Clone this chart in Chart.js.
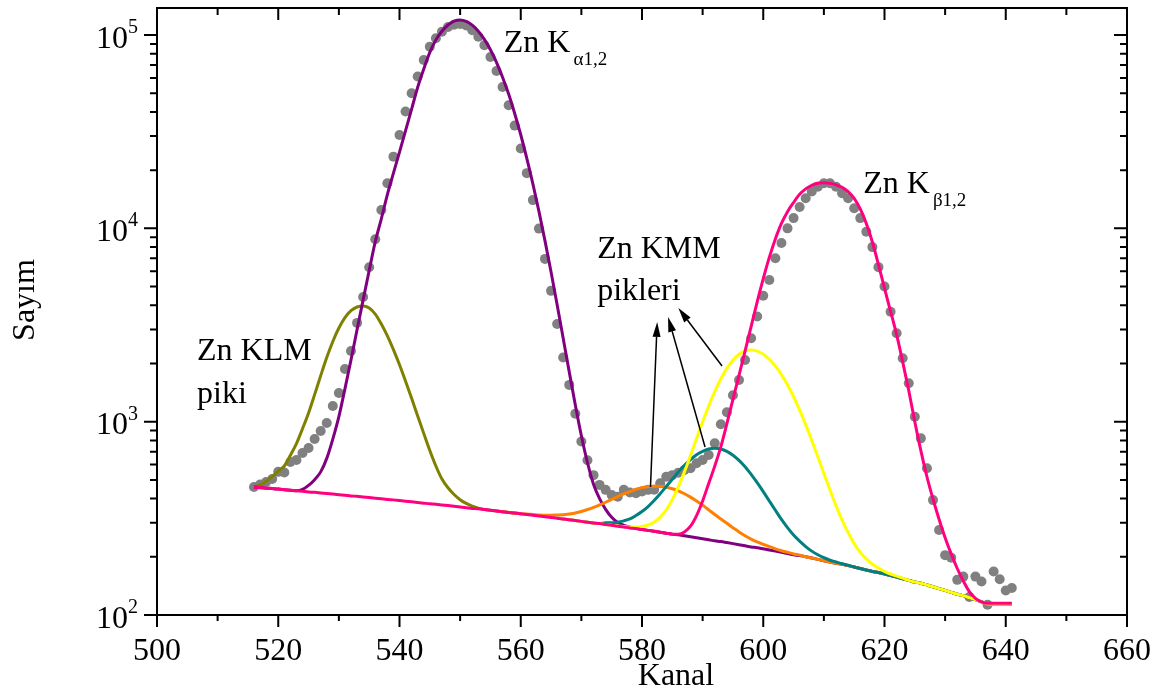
<!DOCTYPE html>
<html>
<head>
<meta charset="utf-8">
<script src="https://cdn.jsdelivr.net/npm/chart.js@4.4.1/dist/chart.umd.min.js"></script>
<style>
  html, body { margin: 0; padding: 0; background: #fff; }
</style>
</head>
<body>
<canvas id="spectrum" width="1165" height="696"></canvas>

<script type="text/javascript">
    // measured counts, one point per channel starting at channel 516
    const firstChannel = 516;
    const measured = [
        459, 473, 487, 505, 550, 546, 619, 634, 689, 731,
        813, 895, 985, 1205, 1407, 1874, 2323, 3243, 4418, 6295,
        8790, 12450, 17100, 23500, 30400, 40200, 50000, 61000, 74300, 87100,
        96200, 104000, 110000, 113000, 114000, 112000, 106000, 98000, 88500, 77000,
        65200, 53800, 43300, 34000, 25900, 19300, 14000, 9970, 6950, 4750,
        3200, 2150, 1550, 1100, 790, 632, 529, 471, 444, 418,
        409, 444, 430, 427, 435, 444, 445, 480, 519, 529,
        545, 562, 574, 609, 634, 673, 773, 970, 1120, 1370,
        1643, 2085, 2700, 3500, 4480, 5410, 7000, 8400, 10000, 11300,
        12900, 14300, 15500, 16400, 17100, 17100, 16400, 15200, 14300, 12700,
        11300, 9600, 8000, 6300, 5000, 3700, 2870, 2130, 1580, 1060,
        820, 574, 393, 275, 204, 198, 152, 158, 124, 158,
        149, 113, 168, 153, 134, 138
    ];

    // fitted components (each already sits on the linear background)
    const kaStart = 516;   // Zn K alpha 1,2
    const kaFit = [
        459, 456, 453, 451, 448, 445, 442, 439, 446, 468,
        501, 550, 646, 813, 1062, 1479, 2089, 2992, 4266, 6053,
        8511, 11200, 14960, 19300, 24800, 32000, 41400, 53700, 66800, 81300,
        94400, 104700, 112700, 118000, 119700, 117600, 112500, 104700, 95000, 84000,
        72300, 60500, 49500, 39300, 30500, 23000, 17000, 12250, 8620, 5950,
        4030, 2700, 1810, 1220, 846, 615, 475, 400, 352, 320,
        301, 291, 285, 280, 277, 274, 271, 268, 265, 262,
        260, 257, 254, 251, 248, 245, 242, 240, 237, 234,
        231, 228, 225, 223, 220, 217, 214, 211, 208, 205,
        203, 200, 197, 194, 191, 188, 185, 183, 180, 177,
        174, 171, 168, 166, 163, 160, 157, 154, 151, 148,
        146, 143, 140, 137, 134, 131, 128, 126, 123, 120,
        117, 114, 114, 114, 114, 114
    ];

    const klmStart = 516;  // Zn KLM satellite
    const klmFit = [
        459, 470, 490, 520, 555, 590, 670, 770, 920, 1110,
        1380, 1730, 2150, 2600, 3050, 3450, 3750, 3920, 3970, 3870,
        3600, 3200, 2780, 2360, 1970, 1620, 1320, 1070, 870, 710,
        590, 505, 455, 420, 395, 378, 366, 357, 351, 348,
        345, 342, 339, 337, 334
    ];

    const kmm1Start = 556; // Zn KMM, first line
    const kmm1Fit = [
        345, 342, 339, 337, 334, 333, 331, 329, 328, 328,
        329, 330, 333, 337, 343, 351, 360, 371, 383, 396,
        410, 423, 435, 447, 456, 462, 464, 463, 458, 450,
        439, 424, 407, 389, 370, 350, 331, 314, 298, 283,
        269, 257, 247, 239, 232, 226, 220, 215, 211, 207,
        204, 200, 197, 194, 191, 188, 185, 183, 180, 177,
        174, 171, 168, 166, 163, 160, 157, 154, 151, 148,
        146, 143, 140, 137, 134, 131, 128, 126, 123, 120,
        117, 114, 114, 114, 114, 114
    ];

    const kmm2Start = 566; // Zn KMM, second line
    const kmm2Fit = [
        317, 314, 311, 308, 305, 302, 299, 297, 300, 300,
        302, 307, 314, 327, 343, 364, 391, 424, 462, 504,
        550, 595, 637, 675, 703, 722, 728, 722, 702, 671,
        631, 585, 534, 484, 435, 389, 348, 312, 283, 259,
        241, 226, 214, 205, 198, 192, 188, 184, 181, 177,
        174, 171, 168, 166, 163, 160, 157, 154, 151, 148,
        146, 143, 140, 137, 134, 131, 128, 126, 123, 120,
        117, 114, 114, 114, 114, 114
    ];

    const kmm3Start = 566; // Zn KMM, third line
    const kmm3Fit = [
        317, 314, 311, 308, 305, 302, 299, 297, 294, 291,
        289, 287, 285, 285, 287, 292, 302, 321, 350, 395,
        461, 550, 669, 819, 999, 1206, 1432, 1664, 1886, 2081,
        2232, 2325, 2350, 2316, 2233, 2104, 1941, 1752, 1551, 1346,
        1148, 965, 800, 658, 540, 444, 368, 310, 267, 234,
        211, 195, 183, 175, 168, 163, 159, 155, 151, 148,
        146, 143, 140, 137, 134, 131, 128, 126, 123, 120,
        117, 114, 114, 114, 114, 114
    ];

    const kbStart = 516;   // Zn K beta 1,2
    const kbFit = [
        459, 456, 453, 451, 448, 445, 442, 439, 436, 433,
        431, 428, 425, 422, 419, 416, 413, 411, 408, 405,
        402, 399, 396, 394, 391, 388, 385, 382, 379, 376,
        374, 371, 368, 365, 362, 359, 356, 354, 351, 348,
        345, 342, 339, 337, 334, 331, 328, 325, 322, 319,
        317, 314, 311, 308, 305, 302, 299, 297, 294, 291,
        288, 285, 282, 280, 277, 274, 271, 268, 265, 262,
        262, 269, 288, 327, 389, 479, 589, 741, 977, 1303,
        1738, 2317, 3105, 4169, 5495, 7079, 8810, 10600, 12200, 13600,
        15000, 16000, 16700, 17100, 17200, 17100, 16800, 16300, 15500, 14300,
        12600, 10600, 8500, 6500, 4900, 3720, 2820, 2040, 1450, 1000,
        708, 519, 398, 313, 251, 207, 174, 150, 132, 122,
        117, 115, 115, 115, 115, 115
    ];

    // axis ticks
    const xTicks = [500, 520, 540, 560, 580, 600, 620, 640, 660];
    const yTicks = [100, 1000, 10000, 100000];

    // text labels placed at (channel, count)
    const labels = [
        {x: 557.2, y: 81800, text: 'Zn K', sub: 'α1,2'},
        {x: 616.5, y: 15200, text: 'Zn K', sub: 'β1,2'},
        {x: 572.6, y: 7030, text: 'Zn KMM'},
        {x: 572.6, y: 4266, text: 'pikleri'},
        {x: 506.6, y: 2085, text: 'Zn KLM'},
        {x: 506.6, y: 1250, text: 'piki'}
    ];
    // arrows from each KMM peak up to the label, [channel, count]
    const arrows = [
        {from: [581.4, 459], to: [582.5, 3281]},
        {from: [590.4, 740], to: [584.3, 3484]},
        {from: [593.2, 1942], to: [586.0, 3873]}
    ];

    const SERIF = '"Liberation Serif", "Times New Roman", serif';

    function points(start, values) {
        return values.map((v, i) => ({x: start + i, y: v}));
    }

    function fitLine(start, values, color) {
        return {
            data: points(start, values),
            borderColor: color,
            borderWidth: 3,
            pointRadius: 0,
            fill: false,
            cubicInterpolationMode: 'monotone'
        };
    }

    const decorations = {
        id: 'decorations',
        afterDraw(chart) {
            const ctx = chart.ctx;
            const a = chart.chartArea;
            const xs = chart.scales.x;
            const ys = chart.scales.y;
            ctx.save();
            ctx.strokeStyle = '#000';
            ctx.fillStyle = '#000';
            ctx.lineWidth = 2;
            ctx.strokeRect(a.left, a.top, a.right - a.left, a.bottom - a.top);

            // x ticks: majors from xTicks, minors half way between
            ctx.beginPath();
            xTicks.forEach((v, i) => {
                const px = xs.getPixelForValue(v);
                ctx.moveTo(px, a.bottom); ctx.lineTo(px, a.bottom + 12);
                ctx.moveTo(px, a.top); ctx.lineTo(px, a.top + 12);
                if (i < xTicks.length - 1) {
                    const pm = xs.getPixelForValue((v + xTicks[i + 1]) / 2);
                    ctx.moveTo(pm, a.bottom); ctx.lineTo(pm, a.bottom + 6);
                    ctx.moveTo(pm, a.top); ctx.lineTo(pm, a.top + 7);
                }
            });
            // y ticks: decades and 2..9 minors
            yTicks.forEach(v => {
                for (let k = 1; k <= 9; k++) {
                    const val = v * k;
                    if (val > ys.max) break;
                    const py = ys.getPixelForValue(val);
                    const len = k === 1 ? 13 : 7;
                    ctx.moveTo(a.left, py); ctx.lineTo(a.left - len, py);
                    ctx.moveTo(a.right, py); ctx.lineTo(a.right - len, py);
                }
            });
            ctx.stroke();

            // tick labels
            ctx.font = '32px ' + SERIF;
            ctx.textAlign = 'center';
            ctx.textBaseline = 'alphabetic';
            xTicks.forEach(v => {
                ctx.fillText(String(v), xs.getPixelForValue(v), a.bottom + 45);
            });
            yTicks.forEach(v => {
                const py = ys.getPixelForValue(v);
                const exp = String(Math.round(Math.log10(v)));
                ctx.font = '32px ' + SERIF;
                ctx.textAlign = 'right';
                ctx.fillText('10', a.left - 29, py + 12.5);
                ctx.font = '20px ' + SERIF;
                ctx.textAlign = 'left';
                ctx.fillText(exp, a.left - 29, py - 2);
            });

            // axis titles
            ctx.font = '32px ' + SERIF;
            ctx.textAlign = 'center';
            ctx.fillText('Kanal', 676, 685);
            ctx.save();
            ctx.translate(34, 300);
            ctx.rotate(-Math.PI / 2);
            ctx.fillText('Sayım', 0, 0);
            ctx.restore();

            // peak labels
            labels.forEach(l => {
                const px = xs.getPixelForValue(l.x);
                const py = ys.getPixelForValue(l.y);
                ctx.font = '32px ' + SERIF;
                ctx.textAlign = 'left';
                ctx.fillText(l.text, px, py);
                if (l.sub) {
                    const w = ctx.measureText(l.text).width;
                    ctx.font = '19px ' + SERIF;
                    ctx.fillText(l.sub, px + w + 3, py + 13);
                }
            });

            // arrows
            ctx.lineWidth = 1.5;
            arrows.forEach(ar => {
                const x0 = xs.getPixelForValue(ar.from[0]);
                const y0 = ys.getPixelForValue(ar.from[1]);
                const x1 = xs.getPixelForValue(ar.to[0]);
                const y1 = ys.getPixelForValue(ar.to[1]);
                const ang = Math.atan2(y1 - y0, x1 - x0);
                const head = 15, half = 4;
                const bx = x1 - head * Math.cos(ang);
                const by = y1 - head * Math.sin(ang);
                ctx.beginPath();
                ctx.moveTo(x0, y0);
                ctx.lineTo(bx, by);
                ctx.stroke();
                ctx.beginPath();
                ctx.moveTo(x1, y1);
                ctx.lineTo(bx + half * Math.sin(ang), by - half * Math.cos(ang));
                ctx.lineTo(bx - half * Math.sin(ang), by + half * Math.cos(ang));
                ctx.closePath();
                ctx.fill();
            });
            ctx.restore();
        }
    };

    // first dataset is drawn on top
    new Chart(document.getElementById('spectrum'), {
        type: 'line',
        data: {
            datasets: [
                fitLine(kbStart, kbFit, '#FF0080'),
                fitLine(kmm3Start, kmm3Fit, '#FFFF00'),
                fitLine(kmm2Start, kmm2Fit, '#008080'),
                fitLine(kmm1Start, kmm1Fit, '#FF8000'),
                fitLine(kaStart, kaFit, '#800080'),
                fitLine(klmStart, klmFit, '#808000'),
                {
                    data: points(firstChannel, measured),
                    showLine: false,
                    pointRadius: 5,
                    pointBackgroundColor: '#808080',
                    pointBorderWidth: 0,
                    borderColor: '#808080'
                }
            ]
        },
        options: {
            responsive: false,
            animation: false,
            devicePixelRatio: 1,
            events: [],
            layout: { padding: { left: 157, right: 38, top: 8, bottom: 81 } },
            scales: {
                x: { type: 'linear', min: 500, max: 660, display: false },
                y: { type: 'logarithmic', min: 100, max: 138000, display: false }
            },
            plugins: {
                legend: { display: false },
                tooltip: { enabled: false }
            }
        },
        plugins: [decorations]
    });
</script>
</body>
</html>
